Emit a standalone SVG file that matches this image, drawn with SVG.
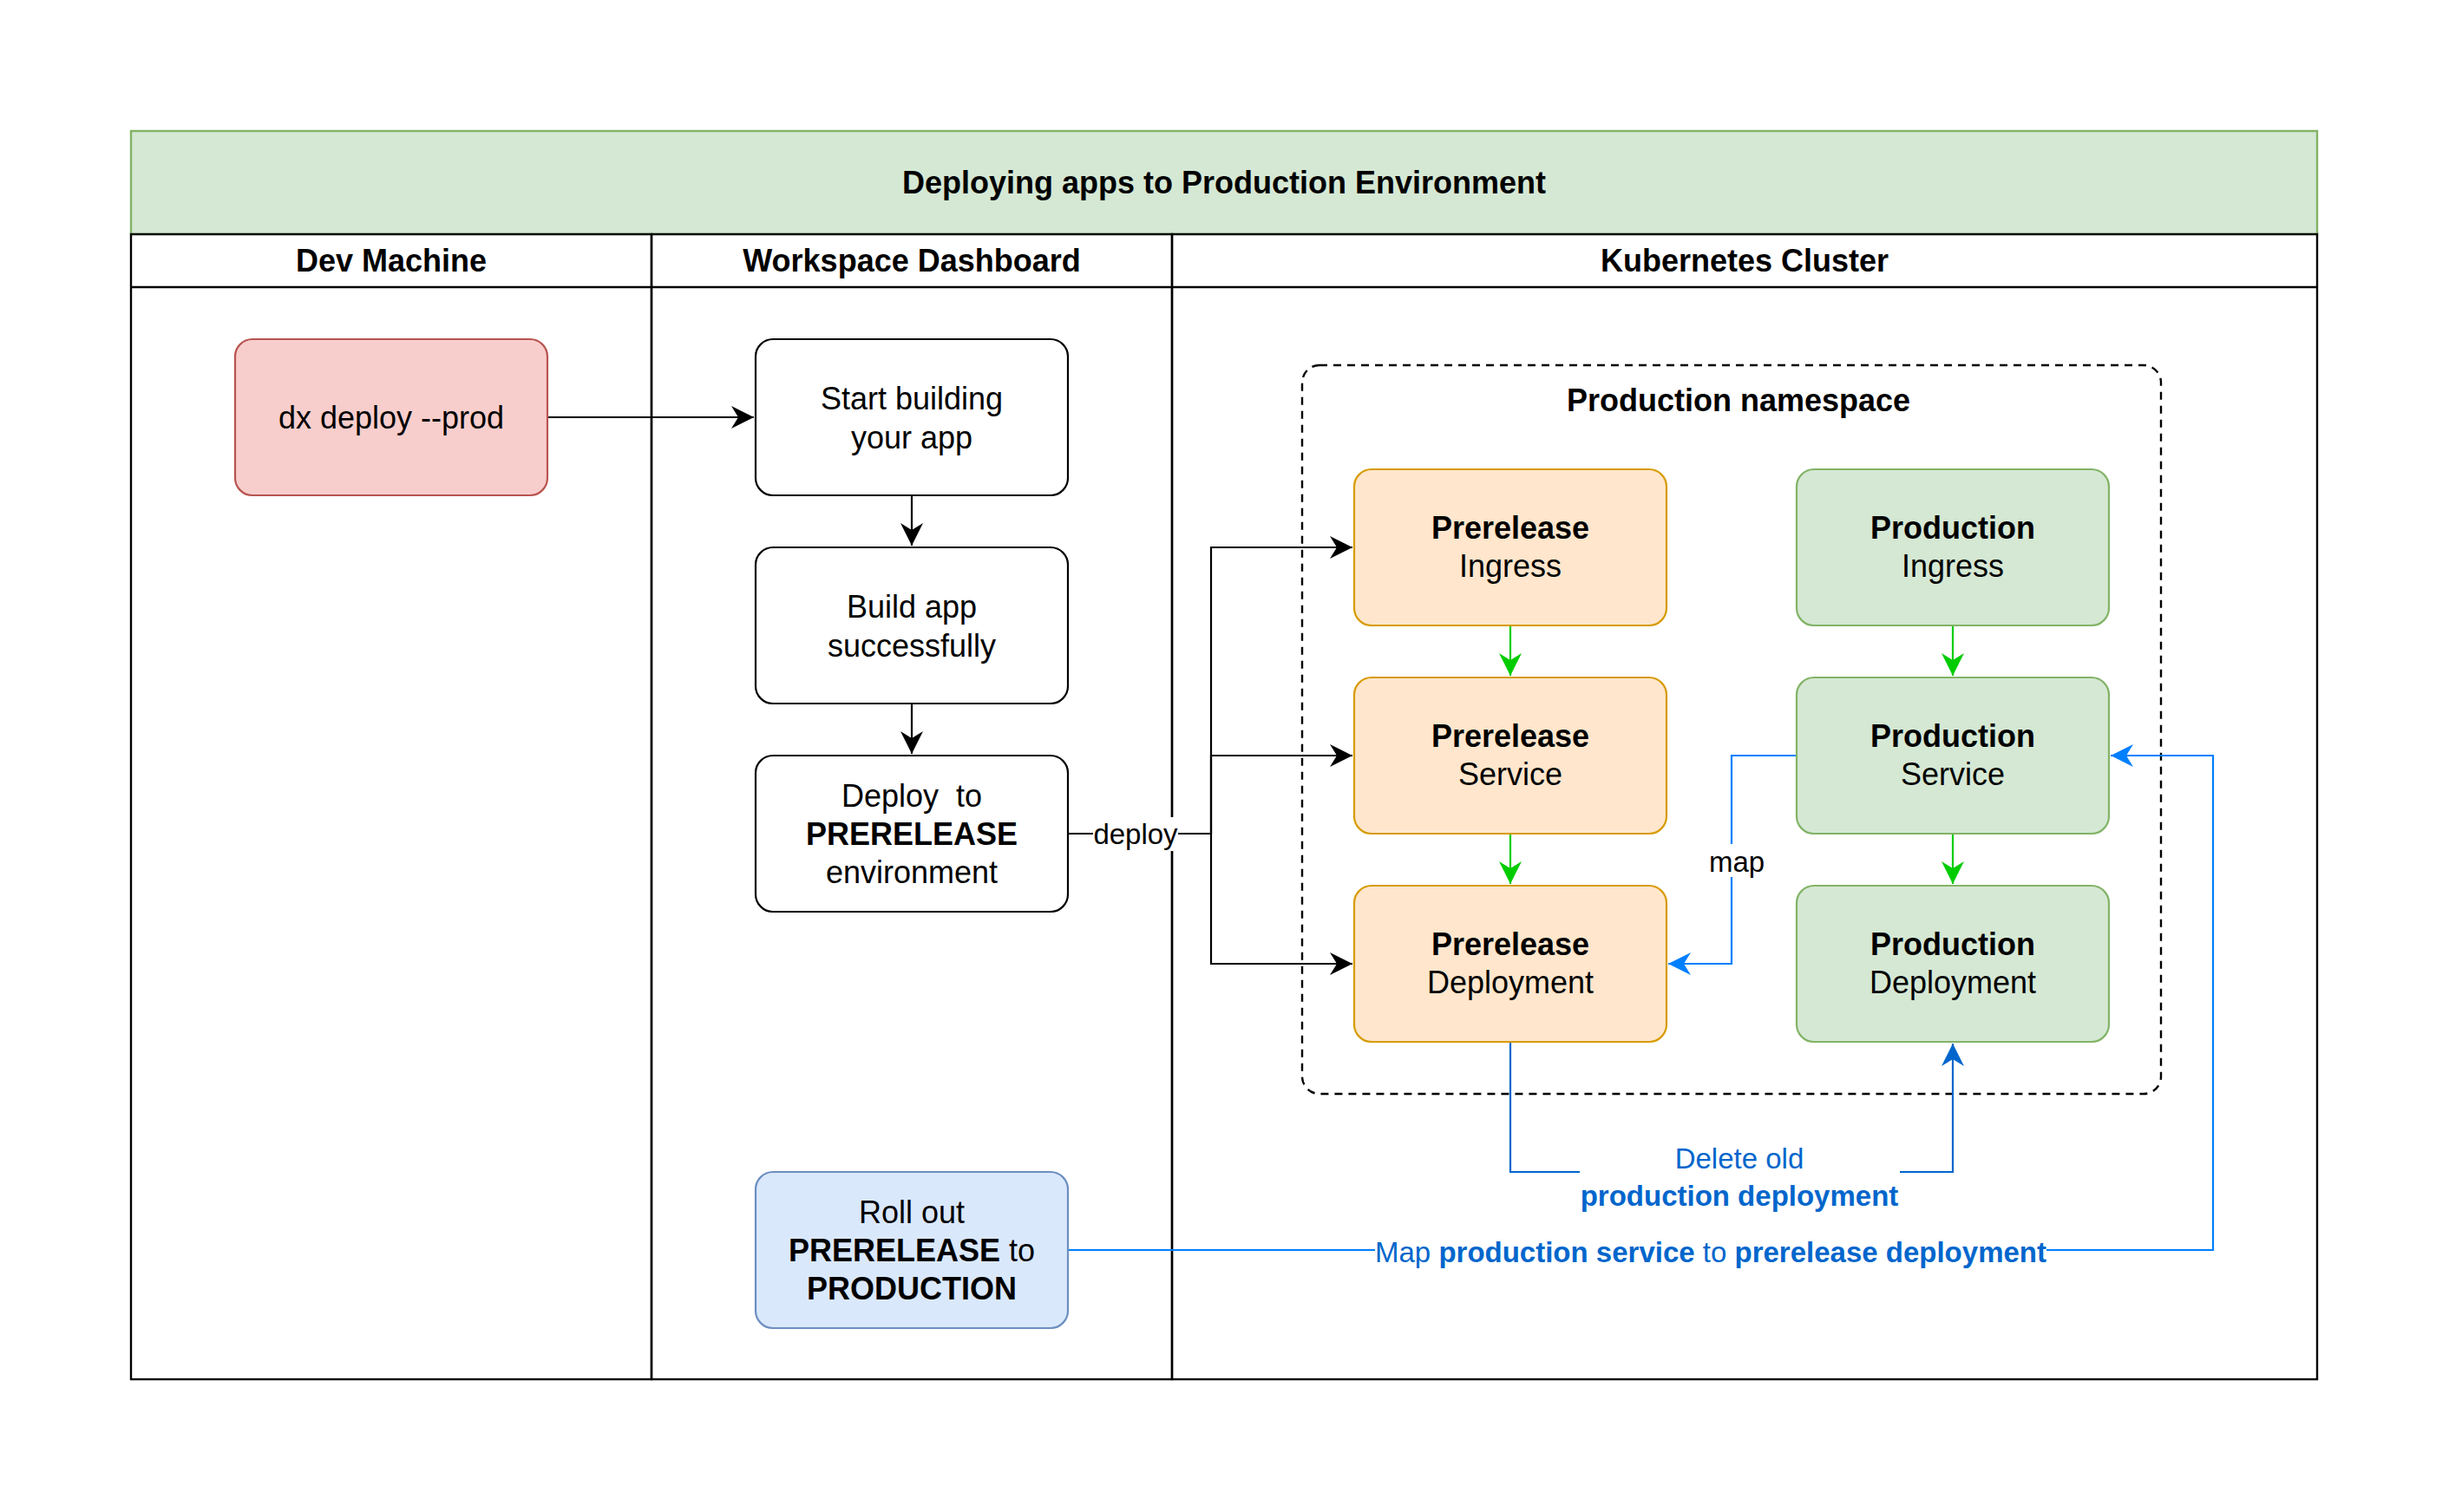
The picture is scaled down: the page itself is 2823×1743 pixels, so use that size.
<svg xmlns="http://www.w3.org/2000/svg" width="2823" height="1743" viewBox="0 0 2823 1743">
<style>
text{font-family:"Liberation Sans",Arial,Helvetica,sans-serif;font-size:36px;fill:#000;text-anchor:middle}
.b{font-weight:bold}
.el{font-size:33px}
.lane{fill:none;stroke:#000;stroke-width:2.4}
.node{stroke-width:2.2}
.wht{fill:#fff;stroke:#000}
.red{fill:#f8cecc;stroke:#b85450}
.org{fill:#ffe6cc;stroke:#d79b00}
.grn{fill:#d5e8d4;stroke:#82b366}
.blu{fill:#dae8fc;stroke:#6c8ebf}
.e{fill:none;stroke-width:2.2}
.lbl{fill:#0066cc}
</style>
<defs>
<marker id="ak" markerWidth="28" markerHeight="26" refX="26" refY="13" orient="auto" markerUnits="userSpaceOnUse"><path d="M0,0 L26,13 L0,26 L8,13 Z" fill="#000"/></marker>
<marker id="ag" markerWidth="28" markerHeight="26" refX="26" refY="13" orient="auto" markerUnits="userSpaceOnUse"><path d="M0,0 L26,13 L0,26 L8,13 Z" fill="#00cc00"/></marker>
<marker id="ab" markerWidth="28" markerHeight="26" refX="26" refY="13" orient="auto" markerUnits="userSpaceOnUse"><path d="M0,0 L26,13 L0,26 L8,13 Z" fill="#007fff"/></marker>
<marker id="ad" markerWidth="28" markerHeight="26" refX="26" refY="13" orient="auto" markerUnits="userSpaceOnUse"><path d="M0,0 L26,13 L0,26 L8,13 Z" fill="#0066cc"/></marker>
</defs>
<rect width="2823" height="1743" fill="#fff"/>

<g id="pool">
<rect x="151" y="151" width="2520" height="119" fill="#d5e8d4" stroke="#82b366" stroke-width="2.4"/>
<text class="b" x="1411" y="223">Deploying apps to Production Environment</text>
</g>
<g id="lane-dev">
<rect class="lane" x="151" y="270" width="600" height="1320"/>
<line class="lane" x1="151" y1="331" x2="751" y2="331"/>
<text class="b" x="451" y="313">Dev Machine</text>
</g>
<g id="lane-dashboard">
<rect class="lane" x="751" y="270" width="600" height="1320"/>
<line class="lane" x1="751" y1="331" x2="1351" y2="331"/>
<text class="b" x="1051" y="313">Workspace Dashboard</text>
</g>
<g id="lane-k8s">
<rect class="lane" x="1351" y="270" width="1320" height="1320"/>
<line class="lane" x1="1351" y1="331" x2="2671" y2="331"/>
<text class="b" x="2011" y="313">Kubernetes Cluster</text>
</g>

<g id="namespace">
<rect x="1501" y="421" width="990" height="840" rx="20" fill="none" stroke="#000" stroke-width="2.4" stroke-dasharray="9 7"/>
<text class="b" x="2004" y="474">Production namespace</text>
</g>

<g id="connectors">
<path class="e" d="M631,481 H869" stroke="#000" marker-end="url(#ak)"/>
<path class="e" d="M1051,571 V629" stroke="#000" marker-end="url(#ak)"/>
<path class="e" d="M1051,811 V869" stroke="#000" marker-end="url(#ak)"/>
<path class="e" d="M1231,961 H1396 V631 H1559" stroke="#000" marker-end="url(#ak)"/>
<path class="e" d="M1396,961 V871 H1559" stroke="#000" marker-end="url(#ak)"/>
<path class="e" d="M1396,961 V1111 H1559" stroke="#000" marker-end="url(#ak)"/>
<path class="e" d="M1741,721 V779" stroke="#00cc00" marker-end="url(#ag)"/>
<path class="e" d="M1741,961 V1019" stroke="#00cc00" marker-end="url(#ag)"/>
<path class="e" d="M2251,721 V779" stroke="#00cc00" marker-end="url(#ag)"/>
<path class="e" d="M2251,961 V1019" stroke="#00cc00" marker-end="url(#ag)"/>
<path class="e" d="M2071,871 H1996 V1111 H1923" stroke="#007fff" marker-end="url(#ab)"/>
<path class="e" d="M1741,1201 V1351 H2251 V1203" stroke="#0066cc" marker-end="url(#ad)"/>
<path class="e" d="M1231,1441 H2551 V871 H2433" stroke="#007fff" marker-end="url(#ab)"/>
<rect x="1260" y="942" width="98" height="39" fill="#fff"/>
<text class="el" x="1309" y="973">deploy</text>
<rect x="1967" y="973" width="70" height="38" fill="#fff"/>
<text class="el" x="2002" y="1005">map</text>
<rect x="1821" y="1314" width="369" height="88" fill="#fff"/>
<text class="el lbl" x="2005" y="1347">Delete old</text>
<text class="el lbl b" x="2005" y="1390">production deployment</text>
<rect x="1585" y="1422" width="774" height="40" fill="#fff"/>
<text class="el lbl" x="1972" y="1455">Map <tspan class="b">production service</tspan> to <tspan class="b">prerelease deployment</tspan></text>
</g>

<g id="dx-deploy">
<rect class="node red" x="271" y="391" width="360" height="180" rx="20"/>
<text x="451" y="494">dx deploy --prod</text>
</g>
<g id="start-building">
<rect class="node wht" x="871" y="391" width="360" height="180" rx="20"/>
<text x="1051" y="472">Start building</text>
<text x="1051" y="517">your app</text>
</g>
<g id="build-app">
<rect class="node wht" x="871" y="631" width="360" height="180" rx="20"/>
<text x="1051" y="712">Build app</text>
<text x="1051" y="757">successfully</text>
</g>
<g id="deploy-prerelease">
<rect class="node wht" x="871" y="871" width="360" height="180" rx="20"/>
<text x="1051" y="930" xml:space="preserve">Deploy  to</text>
<text class="b" x="1051" y="974">PRERELEASE</text>
<text x="1051" y="1018">environment</text>
</g>
<g id="roll-out">
<rect class="node blu" x="871" y="1351" width="360" height="180" rx="20"/>
<text x="1051" y="1410">Roll out</text>
<text x="1051" y="1454"><tspan class="b">PRERELEASE</tspan> to</text>
<text class="b" x="1051" y="1498">PRODUCTION</text>
</g>
<g id="prerelease-ingress">
<rect class="node org" x="1561" y="541" width="360" height="180" rx="20"/>
<text class="b" x="1741" y="621">Prerelease</text>
<text x="1741" y="665">Ingress</text>
</g>
<g id="prerelease-service">
<rect class="node org" x="1561" y="781" width="360" height="180" rx="20"/>
<text class="b" x="1741" y="861">Prerelease</text>
<text x="1741" y="905">Service</text>
</g>
<g id="prerelease-deployment">
<rect class="node org" x="1561" y="1021" width="360" height="180" rx="20"/>
<text class="b" x="1741" y="1101">Prerelease</text>
<text x="1741" y="1145">Deployment</text>
</g>
<g id="production-ingress">
<rect class="node grn" x="2071" y="541" width="360" height="180" rx="20"/>
<text class="b" x="2251" y="621">Production</text>
<text x="2251" y="665">Ingress</text>
</g>
<g id="production-service">
<rect class="node grn" x="2071" y="781" width="360" height="180" rx="20"/>
<text class="b" x="2251" y="861">Production</text>
<text x="2251" y="905">Service</text>
</g>
<g id="production-deployment">
<rect class="node grn" x="2071" y="1021" width="360" height="180" rx="20"/>
<text class="b" x="2251" y="1101">Production</text>
<text x="2251" y="1145">Deployment</text>
</g>
</svg>
